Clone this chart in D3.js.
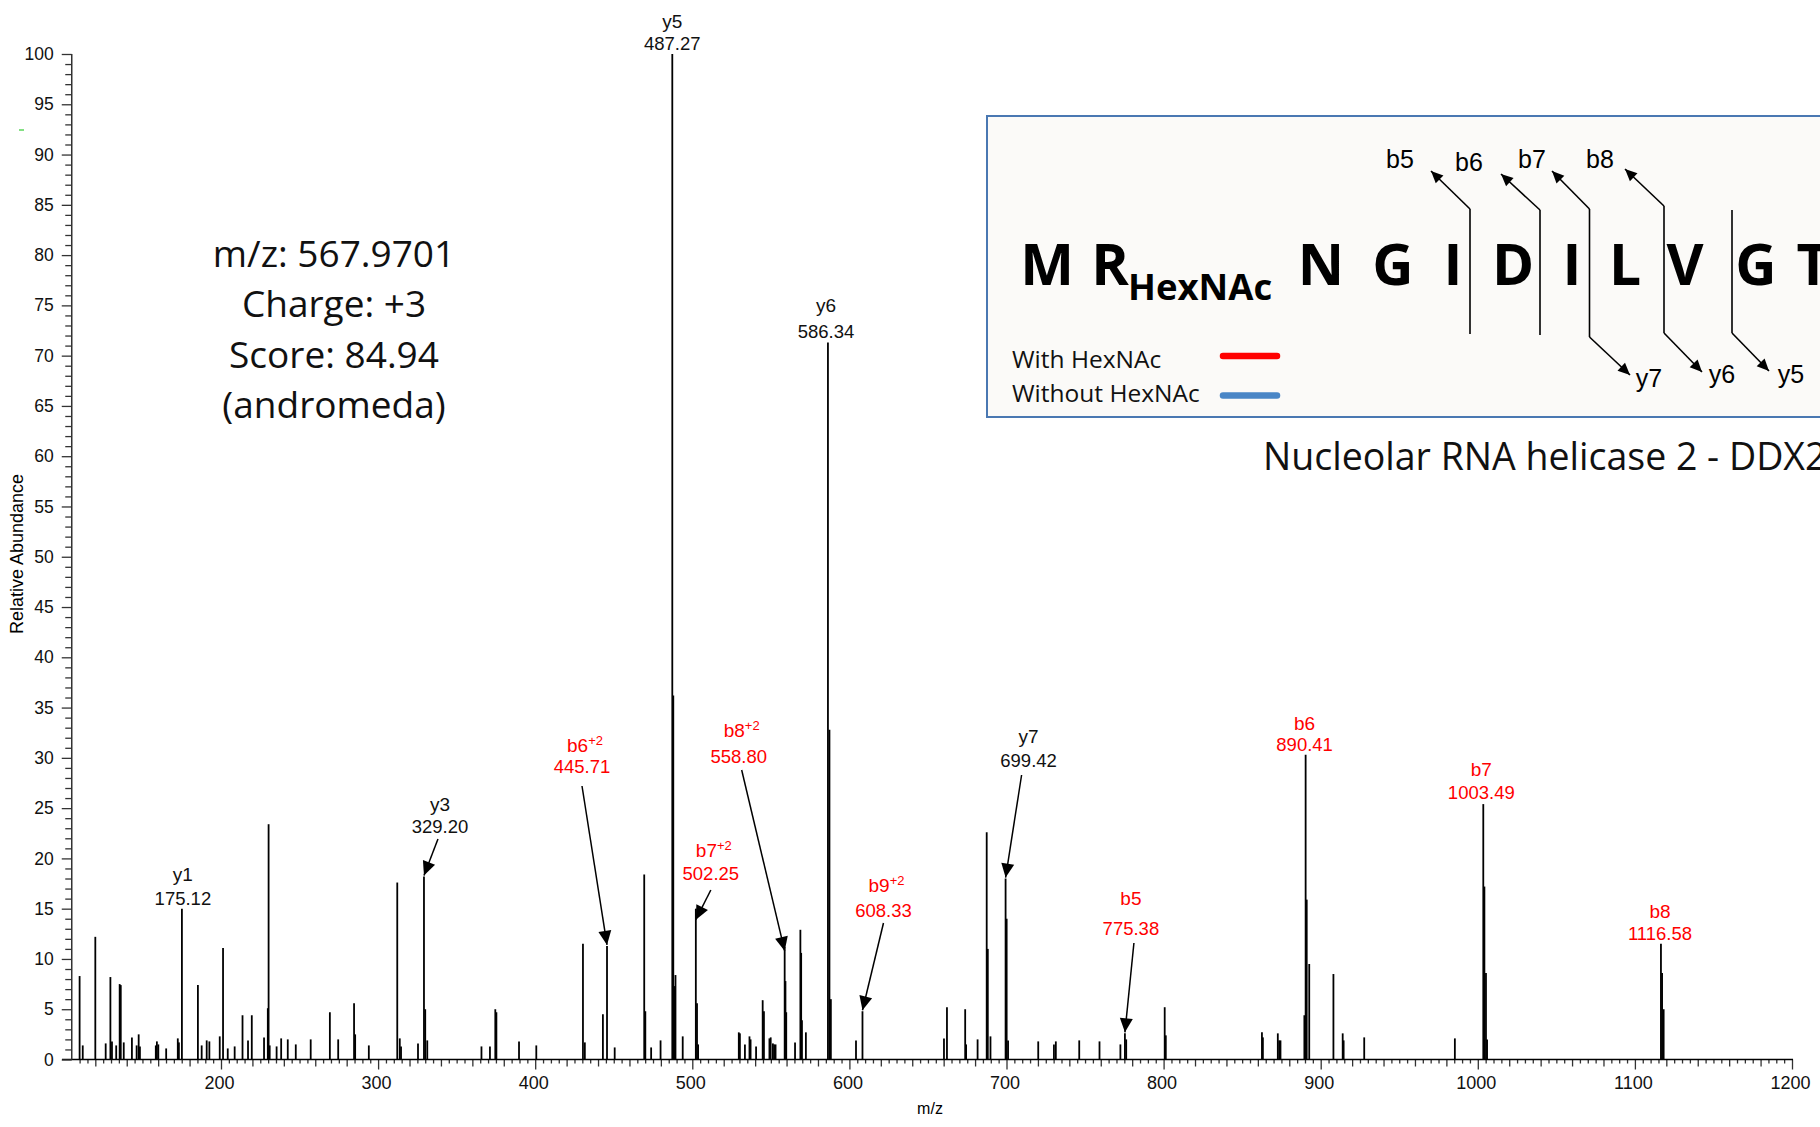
<!DOCTYPE html>
<html>
<head>
<meta charset="utf-8">
<script src="https://cdn.jsdelivr.net/npm/d3@7"></script>
<style>
  html, body { margin: 0; padding: 0; background: #fff; }
  svg { display: block; }
</style>
</head>
<body>
<svg id="chart" width="1820" height="1127"></svg>
<script>
// ---------------- DATA ----------------
const mzValues = [
  110.0, 112.0, 120.0, 126.6, 129.6, 130.6, 133.3, 135.5, 136.2, 138.1,
  143.3, 146.3, 147.6, 148.4, 158.5, 159.2, 160.1, 165.1, 172.5, 173.2,
  175.12, 185.3, 187.7, 190.9, 192.6, 199.2, 201.3, 204.3, 208.7, 213.7,
  217.2, 219.6, 227.4, 229.8, 230.3, 231.0, 235.4, 238.3, 242.5, 247.6,
  257.1, 269.3, 274.6, 284.7, 285.4, 294.1, 312.2, 313.8, 314.6, 325.4,
  329.20, 330.0, 331.3, 365.8, 371.2, 374.6, 375.3, 389.7, 400.7, 430.4,
  431.6, 443.1, 445.71, 450.6, 469.4, 470.1, 473.8, 479.8, 487.27, 487.9,
  488.8, 489.3, 493.9, 502.25, 503.0, 503.7, 529.6, 530.3, 533.5, 536.4,
  537.1, 540.6, 544.8, 545.6, 549.1, 549.9, 551.3, 552.1, 553.0, 558.80,
  559.3, 559.8, 565.4, 568.8, 569.3, 569.8, 572.3, 586.34, 587.3, 588.2,
  604.2, 608.33, 660.2, 662.1, 673.7, 674.3, 681.6, 687.4, 688.1, 689.8,
  699.42, 700.1, 701.0, 720.2, 730.2, 731.4, 746.3, 759.2, 772.5, 775.38,
  776.2, 800.7, 801.4, 862.6, 863.2, 872.7, 873.6, 874.4, 889.6, 890.41,
  891.1, 892.7, 908.1, 914.0, 914.6, 927.7, 985.4, 1003.49, 1004.2, 1005.2,
  1005.9, 1116.58, 1117.3, 1118.3
];
const intensities = [
  8.3, 1.4, 12.2, 1.6, 8.2, 1.8, 1.4, 7.5, 7.4, 1.7,
  2.2, 1.4, 2.5, 1.3, 1.4, 1.8, 1.5, 1.1, 2.1, 1.7,
  15.0, 7.4, 1.4, 1.9, 1.8, 2.3, 11.1, 1.1, 1.3, 4.4,
  1.9, 4.4, 2.2, 5.1, 23.4, 1.4, 1.3, 2.1, 2.0, 1.5,
  2.0, 4.7, 2.0, 5.6, 2.5, 1.4, 17.6, 2.1, 1.3, 1.6,
  18.2, 5.0, 1.9, 1.3, 1.3, 5.0, 4.7, 1.8, 1.4, 11.5,
  1.7, 4.5, 11.3, 1.2, 18.4, 4.8, 1.2, 1.9, 100, 36.2,
  7.3, 8.4, 2.3, 15.0, 5.6, 1.5, 2.7, 2.6, 1.5, 2.3,
  2.0, 1.3, 5.9, 4.8, 2.1, 2.2, 1.6, 1.5, 1.5, 11.2,
  7.8, 4.7, 1.7, 12.9, 10.6, 3.9, 2.7, 71.3, 32.8, 6.0,
  1.9, 4.8, 2.1, 5.2, 5.0, 1.5, 2.0, 22.6, 11.0, 2.3,
  18.0, 14.0, 1.9, 1.8, 1.5, 1.8, 1.9, 1.8, 1.5, 2.6,
  2.0, 5.2, 2.4, 2.7, 2.2, 2.6, 1.9, 1.9, 4.4, 30.3,
  15.9, 9.5, 8.5, 2.6, 1.9, 2.2, 2.1, 25.4, 17.2, 8.6,
  2.0, 11.5, 8.6, 5.0
];

const xTickValues = [200, 300, 400, 500, 600, 700, 800, 900, 1000, 1100, 1200];
const yTickValues = [0, 5, 10, 15, 20, 25, 30, 35, 40, 45, 50, 55, 60, 65, 70, 75, 80, 85, 90, 95, 100];

const ionNames   = ["y1", "y3", "b6", "y5", "b7", "b8", "y6", "b9", "y7", "b5", "b6", "b7", "b8"];
const ionCharges = ["", "", "+2", "", "+2", "+2", "", "+2", "", "", "", "", ""];
const ionMz      = [175.12, 329.20, 445.71, 487.27, 502.25, 558.80, 586.34, 608.33, 699.42, 775.38, 890.41, 1003.49, 1116.58];

const infoLines = ["m/z: 567.9701", "Charge: +3", "Score: 84.94", "(andromeda)"];
const residues = ["M", "R", "N", "G", "I", "D", "I", "L", "V", "G", "T"];
const modification = "HexNAc";
const bFragments = ["b5", "b6", "b7", "b8"];
const yFragments = ["y7", "y6", "y5"];
const legendLabels = ["With HexNAc", "Without HexNAc"];
const proteinTitle = "Nucleolar RNA helicase 2 - DDX21";

// ---------------- LAYOUT (pixels) ----------------
const annLayout = [
  {dx: 1,   nameY: 881, valY: 905},
  {dx: 16,  nameY: 811, valY: 833, adx: 14,  ady: 6},
  {dx: -25, nameY: 752, valY: 773, adx: -25, ady: 13},
  {dx: 0,   nameY: 28,  valY: 50},
  {dx: 15,  nameY: 857, valY: 880, adx: 15,  ady: 10, tipDy: 12},
  {dx: -46, nameY: 737, valY: 763, adx: -43, ady: 7,  tipDy: 5},
  {dx: -2,  nameY: 312, valY: 338},
  {dx: 21,  nameY: 892, valY: 917, adx: 21,  ady: 6},
  {dx: 23,  nameY: 743, valY: 767, adx: 16,  ady: 8},
  {dx: 6,   nameY: 905, valY: 935, adx: 9,   ady: 8},
  {dx: -1,  nameY: 730, valY: 751},
  {dx: -2,  nameY: 776, valY: 799},
  {dx: -1,  nameY: 918, valY: 940}
];
const residueX = [1047, 1110, 1321, 1393, 1453, 1513, 1572, 1625, 1685, 1756, 1813];
const cleavage = [
  {x: 1470, top: 209, bot: 334, up: [1431, 171]},
  {x: 1540, top: 210, bot: 335, up: [1501, 174]},
  {x: 1589.5, top: 209, bot: 337, up: [1552, 171], down: [1630, 375]},
  {x: 1664, top: 206, bot: 333, up: [1625, 169], down: [1702, 372]},
  {x: 1732, top: 210, bot: 333, down: [1769, 371]}
];
const bLabelPos = [[1400, 168], [1469, 171], [1532, 168], [1600, 168]];
const yLabelPos = [[1649, 387], [1722, 383], [1791, 383]];

// ---------------- DRAW ----------------
const svg = d3.select("#chart");
svg.append("rect").attr("width", 1820).attr("height", 1127).attr("fill", "#fff");

const x = d3.scaleLinear().domain([105, 1200]).range([71.75, 1792]);
const y = d3.scaleLinear().domain([0, 100]).range([1059.5, 54]);
const AX_FONT = "'Liberation Sans', Arial, sans-serif";

// x axis
const gx = svg.append("g").attr("transform", `translate(0,${y(0)})`);
const minorX = d3.range(110, 1201, 5).filter(v => v % 20 !== 0);
const medX = d3.range(120, 1201, 20).filter(v => v % 100 !== 0);
gx.append("g").call(d3.axisBottom(x).tickValues(minorX).tickSize(4).tickFormat(""));
gx.append("g").call(d3.axisBottom(x).tickValues(medX).tickSize(7).tickFormat(""));
gx.append("g").call(d3.axisBottom(x).tickValues(xTickValues).tickSize(10).tickPadding(7).tickFormat(d3.format("d")));
gx.selectAll(".domain").remove();
gx.append("line").attr("x1", 62).attr("x2", 1793).attr("y1", 0).attr("y2", 0)
  .attr("stroke", "#000").attr("stroke-width", 1.5);
gx.selectAll(".tick line").attr("stroke", "#333").attr("stroke-width", 1.3);
gx.selectAll("text").attr("font-family", AX_FONT).attr("font-size", 18).attr("fill", "#111")
  .attr("dx", -2);

// y axis
const gy = svg.append("g").attr("transform", `translate(${x(105)},0)`);
gy.append("g").call(d3.axisLeft(y).tickValues(d3.range(0, 101, 1).filter(v => v % 5 !== 0)).tickSize(6.5).tickFormat(""));
gy.append("g").call(d3.axisLeft(y).tickValues(yTickValues).tickSize(10).tickPadding(8).tickFormat(d3.format("d")));
gy.selectAll(".domain").remove();
gy.append("line").attr("x1", 0).attr("x2", 0).attr("y1", y(100)).attr("y2", y(0))
  .attr("stroke", "#333").attr("stroke-width", 1.5);
gy.selectAll(".tick line").attr("stroke", "#333").attr("stroke-width", 1.3);
gy.selectAll("text").attr("font-family", AX_FONT).attr("font-size", 17.5).attr("fill", "#111");

// axis titles
svg.append("text").attr("x", 930).attr("y", 1114).attr("text-anchor", "middle")
  .attr("font-family", AX_FONT).attr("font-size", 16).text("m/z");
svg.append("text").attr("transform", `translate(23,554) rotate(-90)`).attr("text-anchor", "middle")
  .attr("font-family", AX_FONT).attr("font-size", 18).text("Relative Abundance");

// small green mark
svg.append("line").attr("x1", 19).attr("x2", 24).attr("y1", 130).attr("y2", 130)
  .attr("stroke", "#3c3").attr("stroke-width", 1.2);

// peaks
const peaks = mzValues.map((m, i) => ({mz: m, inten: intensities[i]}));
svg.append("g").selectAll("line").data(peaks).join("line")
  .attr("x1", d => x(d.mz)).attr("x2", d => x(d.mz))
  .attr("y1", y(0)).attr("y2", d => y(d.inten))
  .attr("stroke", "#000").attr("stroke-width", 1.8);

// arrow helper
function arrow(g, x1, y1, x2, y2, len, halfW, sw) {
  g.append("line").attr("x1", x1).attr("y1", y1).attr("x2", x2).attr("y2", y2)
    .attr("stroke", "#000").attr("stroke-width", sw);
  const dxv = x2 - x1, dyv = y2 - y1, L = Math.hypot(dxv, dyv);
  const ux = dxv / L, uy = dyv / L, px = -uy, py = ux;
  const bx = x2 - ux * len, by = y2 - uy * len;
  g.append("polygon")
    .attr("points", `${x2},${y2} ${bx + px * halfW},${by + py * halfW} ${bx - px * halfW},${by - py * halfW}`)
    .attr("fill", "#000");
}

// annotations
const ann = svg.append("g").attr("font-family", AX_FONT);
ionNames.forEach((name, i) => {
  const lay = annLayout[i];
  const m = ionMz[i];
  const pk = peaks.reduce((a, b) => Math.abs(b.mz - m) < Math.abs(a.mz - m) ? b : a);
  const px = x(m), ptop = y(pk.inten);
  const color = name[0] === "b" ? "#ff0000" : "#111";
  const cx = px + lay.dx;
  const t = ann.append("text").attr("x", cx + (ionCharges[i] ? 3 : 0)).attr("y", lay.nameY)
    .attr("text-anchor", "middle").attr("font-size", 19).attr("fill", color);
  t.append("tspan").text(name);
  if (ionCharges[i]) t.append("tspan").attr("dy", -7).attr("font-size", 13).text(ionCharges[i]);
  ann.append("text").attr("x", cx).attr("y", lay.valY).attr("text-anchor", "middle")
    .attr("font-size", 18.5).attr("fill", color).text(m.toFixed(2));
  if (lay.adx !== undefined) {
    arrow(ann, px + lay.adx, lay.valY + lay.ady, px, ptop + (lay.tipDy || 0) - 1, 14, 6.5, 1.5);
  }
});

// info text block
const info = svg.append("g").attr("font-family", "'Open Sans', sans-serif").attr("font-size", 37)
  .attr("text-anchor", "middle").attr("fill", "#111");
infoLines.forEach((s, i) => {
  info.append("text").attr("x", 334).attr("y", 267 + i * 50.3).text(s);
});

// sequence box
const box = svg.append("g");
box.append("rect").attr("x", 987).attr("y", 116).attr("width", 900).attr("height", 301)
  .attr("fill", "#fbfaf8").attr("stroke", "#4a78b2").attr("stroke-width", 2);
residues.forEach((r, i) => {
  box.append("text").attr("x", residueX[i]).attr("y", 285).attr("text-anchor", "middle")
    .attr("font-family", "'Open Sans', sans-serif").attr("font-weight", 700)
    .attr("font-size", 57).attr("fill", "#000").text(r);
});
box.append("text").attr("x", 1128).attr("y", 300)
  .attr("font-family", "'Open Sans', sans-serif").attr("font-weight", 700)
  .attr("font-size", 36.5).attr("fill", "#000").text(modification);

cleavage.forEach(c => {
  box.append("line").attr("x1", c.x).attr("x2", c.x).attr("y1", c.top).attr("y2", c.bot)
    .attr("stroke", "#000").attr("stroke-width", 1.6);
  if (c.up) arrow(box, c.x, c.top, c.up[0], c.up[1], 12, 5.5, 1.6);
  if (c.down) arrow(box, c.x, c.bot, c.down[0], c.down[1], 12, 5.5, 1.6);
});
bFragments.forEach((s, i) => {
  box.append("text").attr("x", bLabelPos[i][0]).attr("y", bLabelPos[i][1]).attr("text-anchor", "middle")
    .attr("font-family", AX_FONT).attr("font-size", 25).attr("fill", "#000").text(s);
});
yFragments.forEach((s, i) => {
  box.append("text").attr("x", yLabelPos[i][0]).attr("y", yLabelPos[i][1]).attr("text-anchor", "middle")
    .attr("font-family", AX_FONT).attr("font-size", 25).attr("fill", "#000").text(s);
});

// legend
const legColors = ["#ff0000", "#4a86c6"];
legendLabels.forEach((s, i) => {
  box.append("text").attr("x", 1012).attr("y", 368 + i * 34)
    .attr("font-family", "'Open Sans', sans-serif").attr("font-size", 24.5).attr("fill", "#111").text(s);
  box.append("line").attr("x1", 1223).attr("x2", 1277).attr("y1", 356 + i * 39.5).attr("y2", 356 + i * 39.5)
    .attr("stroke", legColors[i]).attr("stroke-width", 6.5).attr("stroke-linecap", "round");
});

// protein title
svg.append("text").attr("x", 1263).attr("y", 470)
  .attr("font-family", "'Open Sans', sans-serif").attr("font-size", 37.5).attr("fill", "#111")
  .text(proteinTitle);
</script>
</body>
</html>
